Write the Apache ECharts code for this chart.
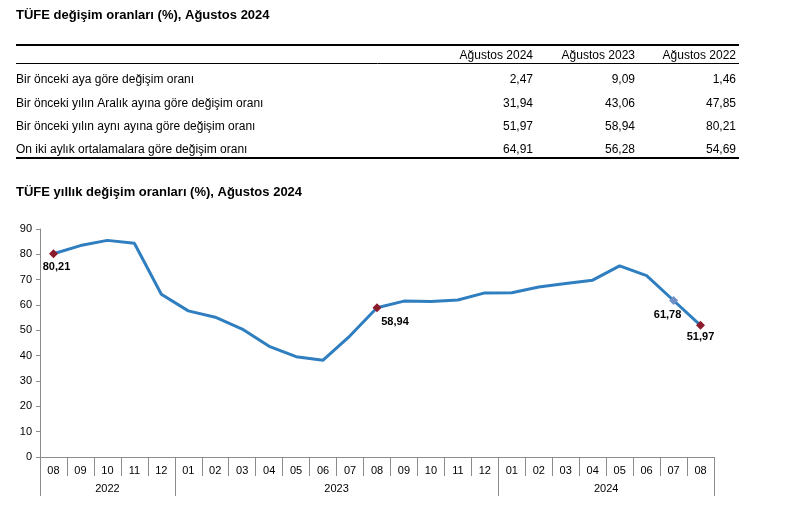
<!DOCTYPE html>
<html><head><meta charset="utf-8">
<script src="https://cdn.jsdelivr.net/npm/echarts@6/dist/echarts.min.js"></script>
<style>html,body{margin:0;padding:0;background:#fff}#c{width:787px;height:506px}</style>
</head><body><div id="c"></div>
<script>
const tableTitle = 'TÜFE değişim oranları (%), Ağustos 2024';
const chartTitle = 'TÜFE yıllık değişim oranları (%), Ağustos 2024';
const tableColumns = ['Ağustos 2024', 'Ağustos 2023', 'Ağustos 2022'];
const tableRows = [
  'Bir önceki aya göre değişim oranı',
  'Bir önceki yılın Aralık ayına göre değişim oranı',
  'Bir önceki yılın aynı ayına göre değişim oranı',
  'On iki aylık ortalamalara göre değişim oranı'
];
const col2024 = ['2,47', '31,94', '51,97', '64,91'];
const col2023 = ['9,09', '43,06', '58,94', '56,28'];
const col2022 = ['1,46', '47,85', '80,21', '54,69'];

const months = ['08','09','10','11','12','01','02','03','04','05','06','07','08','09','10','11','12','01','02','03','04','05','06','07','08'];
const years = ['2022', '2023', '2024'];
const monthsPerYear = [5, 12, 8];
const annualChange = [80.21, 83.45, 85.51, 84.39, 64.27, 57.68, 55.18, 50.51, 43.68, 39.59, 38.21, 47.83, 58.94, 61.53, 61.36, 61.98, 64.77, 64.86, 67.07, 68.50, 69.80, 75.45, 71.60, 61.78, 51.97];
const yTicks = [0, 10, 20, 30, 40, 50, 60, 70, 80, 90];

// highlighted points: index -> style
const highlighted = {
  0:  { color: '#8B1C2C', offset: [3, 1] },
  12: { color: '#8B1C2C', offset: [18, 2] },
  23: { color: '#6F8FC6', offset: [-6, 2] },
  24: { color: '#8B1C2C', offset: [0, 0] }
};

const fmt = v => v.toFixed(2).replace('.', ',');

// year axis built on half-band positions
const halfCats = [];
for (let k = 0; k <= months.length * 2; k++) halfCats.push('');
const yearTickPos = new Set([0]);
const yearLabelPos = {};
let start = 0;
years.forEach((y, i) => {
  yearLabelPos[start * 2 + monthsPerYear[i]] = y;
  start += monthsPerYear[i];
  yearTickPos.add(start * 2);
});
Object.keys(yearLabelPos).forEach(k => { halfCats[+k] = yearLabelPos[k]; });

const seriesData = annualChange.map((v, i) => {
  const h = highlighted[i];
  if (!h) return { value: v, symbol: 'none' };
  return {
    value: v,
    symbol: 'diamond',
    symbolSize: 9,
    itemStyle: { color: h.color },
    label: {
      show: true, position: 'bottom', distance: 2, offset: h.offset,
      formatter: p => fmt(p.value),
      color: '#000', fontWeight: 'bold', fontSize: 11, fontFamily: 'Liberation Sans'
    }
  };
});

// table graphics
const graphics = [];
const FONT = 'Liberation Sans';
graphics.push({ type: 'text', x: 16, y: 15, style: { text: tableTitle, font: 'bold 13px "Liberation Sans"', fill: '#000', textVerticalAlign: 'middle' } });
graphics.push({ type: 'text', x: 16, y: 192, style: { text: chartTitle, font: 'bold 13px "Liberation Sans"', fill: '#000', textVerticalAlign: 'middle' } });
graphics.push({ type: 'line', shape: { x1: 16, y1: 45, x2: 739, y2: 45 }, style: { stroke: '#000', lineWidth: 2 } });
graphics.push({ type: 'line', shape: { x1: 16, y1: 63.5, x2: 739, y2: 63.5 }, style: { stroke: '#000', lineWidth: 1 } });
graphics.push({ type: 'line', shape: { x1: 16, y1: 158, x2: 739, y2: 158 }, style: { stroke: '#000', lineWidth: 2 } });
const colRight = [533, 635, 736];
tableColumns.forEach((c, i) => {
  graphics.push({ type: 'text', x: colRight[i], y: 56, style: { text: c, font: '12px "Liberation Sans"', fill: '#000', textAlign: 'right', textVerticalAlign: 'middle' } });
});
const rowY = [80, 104, 127, 150];
const cols = [col2024, col2023, col2022];
tableRows.forEach((r, i) => {
  graphics.push({ type: 'text', x: 16, y: rowY[i], style: { text: r, font: '12px "Liberation Sans"', fill: '#000', textAlign: 'left', textVerticalAlign: 'middle' } });
  cols.forEach((col, j) => {
    graphics.push({ type: 'text', x: colRight[j], y: rowY[i], style: { text: col[i], font: '12px "Liberation Sans"', fill: '#000', textAlign: 'right', textVerticalAlign: 'middle' } });
  });
});

const chart = echarts.init(document.getElementById('c'), null, { renderer: 'canvas' });
chart.setOption({
  animation: false,
  backgroundColor: '#fff',
  textStyle: { fontFamily: FONT },
  grid: { left: 40, right: 73, top: 229, bottom: 49 },
  graphic: graphics,
  xAxis: [
    {
      type: 'category', data: months, boundaryGap: true, position: 'bottom',
      axisLine: { show: true, lineStyle: { color: '#8c8c8c', width: 1 } },
      axisTick: { show: true, interval: 0, length: 19, lineStyle: { color: '#8c8c8c' } },
      axisLabel: { interval: 0, margin: 8, color: '#000', fontSize: 11, fontFamily: FONT },
      splitLine: { show: false }
    },
    {
      type: 'category', data: halfCats, boundaryGap: false, position: 'bottom',
      axisLine: { show: false },
      axisTick: { show: true, length: 39, interval: (idx) => yearTickPos.has(idx), lineStyle: { color: '#8c8c8c' } },
      axisLabel: { interval: 0, margin: 26, color: '#000', fontSize: 11, fontFamily: FONT },
      splitLine: { show: false }
    }
  ],
  yAxis: {
    type: 'value', min: yTicks[0], max: yTicks[yTicks.length - 1], interval: 10,
    axisLine: { show: true, lineStyle: { color: '#8c8c8c' } },
    axisTick: { show: true, length: 4, lineStyle: { color: '#8c8c8c' } },
    axisLabel: { margin: 8, color: '#000', fontSize: 11, fontFamily: FONT },
    splitLine: { show: false }
  },
  series: [{
    type: 'line', xAxisIndex: 0, data: seriesData,
    lineStyle: { color: '#2F7EBF', width: 3 },
    itemStyle: { color: '#2F7EBF' },
    showSymbol: true, z: 3
  }]
});
</script>
</body></html>
